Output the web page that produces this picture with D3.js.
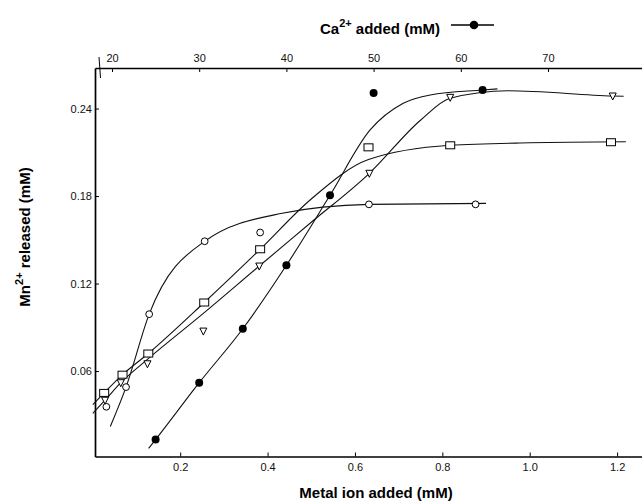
<!DOCTYPE html>
<html><head><meta charset="utf-8">
<script src="https://cdn.jsdelivr.net/npm/d3@7"></script>
<style>body{margin:0;background:#fff} svg{display:block}</style>
</head><body>
<svg id="chart" width="642" height="503"></svg>
<script>
// ---- tick values / labels ----
const metalTicks = [0.2, 0.4, 0.6, 0.8, 1.0, 1.2];
const metalTickLabels = ["0.2", "0.4", "0.6", "0.8", "1.0", "1.2"];
const caTicks = [20, 30, 40, 50, 60, 70];
const caTickLabels = ["20", "30", "40", "50", "60", "70"];
const mnTicks = [0.06, 0.12, 0.18, 0.24];
const mnTickLabels = ["0.06", "0.12", "0.18", "0.24"];

// ---- open circles (metal ion added, mM) ----
const circleX = [0.031, 0.076, 0.129, 0.256, 0.383, 0.632, 0.876];
const circleY = [0.0355, 0.049, 0.099, 0.149, 0.155, 0.1743, 0.1743];
const circleFitX = [0.040, 0.076, 0.129, 0.256, 0.43, 0.632, 0.90];
const circleFitY = [0.022, 0.049, 0.099, 0.149, 0.168, 0.1743, 0.175];

// ---- open squares ----
const squareX = [0.026, 0.068, 0.127, 0.255, 0.383, 0.631, 0.818, 1.186];
const squareY = [0.045, 0.0575, 0.072, 0.107, 0.1435, 0.2134, 0.2148, 0.2169];
const squareFitX = [0.0, 0.026, 0.068, 0.127, 0.255, 0.383, 0.50, 0.631, 0.818, 1.0, 1.22];
const squareFitY = [0.037, 0.045, 0.0575, 0.072, 0.107, 0.1435, 0.178, 0.205, 0.2148, 0.2165, 0.2172];

// ---- open down-triangles ----
const triX = [0.028, 0.064, 0.125, 0.253, 0.381, 0.633, 0.818, 1.19];
const triY = [0.040, 0.052, 0.065, 0.0874, 0.132, 0.1956, 0.2477, 0.2486];
const triFitX = [0.0, 0.028, 0.064, 0.125, 0.253, 0.381, 0.50, 0.633, 0.75, 0.818, 0.95, 1.19, 1.215];
const triFitY = [0.031, 0.040, 0.052, 0.068, 0.0995, 0.132, 0.162, 0.1956, 0.232, 0.2470, 0.2522, 0.2486, 0.2484];

// ---- filled circles (Ca2+ added, mM, top axis) ----
const caX = [25, 30, 35, 40, 45, 50, 62.5];
const caY = [0.013, 0.052, 0.089, 0.1325, 0.1805, 0.2507, 0.2527];
const caFitX = [24.2, 25, 30, 35, 40, 45, 49.6, 53.4, 56.5, 62.5, 64.2];
const caFitY = [0.007, 0.013, 0.052, 0.089, 0.1325, 0.1805, 0.2253, 0.2436, 0.2493, 0.2527, 0.2535];

// ---- legend line ----
const legendDot = [0];

const svg = d3.select("#chart");
const x = d3.scaleLinear().domain([0.005, 1.257]).range([95, 642]);
const xCa = d3.scaleLinear().domain([18.05, 80.78]).range([95, 642]);
const y = d3.scaleLinear().domain([0.0014, 0.2678]).range([456.5, 68]);

const tickFont = "'Liberation Sans', Arial, sans-serif";

// axes
const gB = svg.append("g").attr("transform", `translate(0,${y.range()[0]})`)
  .call(d3.axisBottom(x).tickValues(metalTicks).tickFormat((d,i)=>metalTickLabels[i])
        .tickSizeInner(-4).tickSizeOuter(0).tickPadding(7));
const gT = svg.append("g").attr("transform", `translate(0,${y.range()[1]})`)
  .call(d3.axisTop(xCa).tickValues(caTicks).tickFormat((d,i)=>caTickLabels[i])
        .tickSizeInner(-4).tickSizeOuter(0).tickPadding(6));
const gL = svg.append("g").attr("transform", `translate(${x.range()[0]},0)`)
  .call(d3.axisLeft(y).tickValues(mnTicks).tickFormat((d,i)=>mnTickLabels[i])
        .tickSizeInner(-4).tickSizeOuter(0).tickPadding(3));
[gB, gT, gL].forEach(g => {
  g.select(".domain").attr("stroke", "#000").attr("stroke-width", 1.7);
  g.selectAll(".tick line").attr("stroke", "#000").attr("stroke-width", 1);
  g.selectAll(".tick text").attr("font-family", tickFont).attr("font-size", 11).attr("fill", "#111");
});
// small break mark at top-left corner
svg.append("line").attr("x1", 99).attr("x2", 100.5).attr("y1", 57).attr("y2", 78)
  .attr("stroke", "#000").attr("stroke-width", 1);

// curves
const line = d3.line().curve(d3.curveMonotoneX);
function curve(xs, ys, sx) {
  svg.append("path").attr("d", line(xs.map((v,i)=>[sx(v), y(ys[i])])))
    .attr("fill", "none").attr("stroke", "#111").attr("stroke-width", 1.1);
}
curve(circleFitX, circleFitY, x);
curve(squareFitX, squareFitY, x);
curve(triFitX, triFitY, x);
curve(caFitX, caFitY, xCa);

// markers
svg.append("g").selectAll("circle").data(circleX).join("circle")
  .attr("cx", d => x(d)).attr("cy", (d,i) => y(circleY[i])).attr("r", 3.4)
  .attr("fill", "#fff").attr("stroke", "#000").attr("stroke-width", 1);
svg.append("g").selectAll("rect").data(squareX).join("rect")
  .attr("x", d => x(d) - 4.5).attr("y", (d,i) => y(squareY[i]) - 3.5)
  .attr("width", 9).attr("height", 7)
  .attr("fill", "#fff").attr("stroke", "#000").attr("stroke-width", 1);
svg.append("g").selectAll("path").data(triX).join("path")
  .attr("d", (d,i) => { const cx = x(d), cy = y(triY[i]);
    return `M${cx-3.5},${cy-3}L${cx+3.5},${cy-3}L${cx},${cy+4}Z`; })
  .attr("fill", "#fff").attr("stroke", "#000").attr("stroke-width", 1);
svg.append("g").selectAll("circle").data(caX).join("circle")
  .attr("cx", d => xCa(d)).attr("cy", (d,i) => y(caY[i])).attr("r", 4)
  .attr("fill", "#000");

// titles
const titleFont = "'Liberation Sans', Arial, sans-serif";
const tTop = svg.append("text").attr("x", 380).attr("y", 34).attr("text-anchor", "middle")
  .attr("font-family", titleFont).attr("font-weight", "bold").attr("font-size", 15);
tTop.append("tspan").text("Ca");
tTop.append("tspan").attr("dy", -7).attr("font-size", 11).text("2+");
tTop.append("tspan").attr("dy", 7).text(" added (mM)");
svg.append("line").attr("x1", 451).attr("x2", 494).attr("y1", 25).attr("y2", 25)
  .attr("stroke", "#000").attr("stroke-width", 1.3);
svg.selectAll(".legdot").data(legendDot).join("circle").attr("class", "legdot")
  .attr("cx", 474).attr("cy", 25).attr("r", 4.3).attr("fill", "#000");

svg.append("text").attr("x", 376).attr("y", 498).attr("text-anchor", "middle")
  .attr("font-family", titleFont).attr("font-weight", "bold").attr("font-size", 15)
  .text("Metal ion added (mM)");

const tY = svg.append("text").attr("transform", "translate(30,237) rotate(-90)")
  .attr("text-anchor", "middle")
  .attr("font-family", titleFont).attr("font-weight", "bold").attr("font-size", 15);
tY.append("tspan").text("Mn");
tY.append("tspan").attr("dy", -7).attr("font-size", 11).text("2+");
tY.append("tspan").attr("dy", 7).text(" released (mM)");
</script>
</body></html>
